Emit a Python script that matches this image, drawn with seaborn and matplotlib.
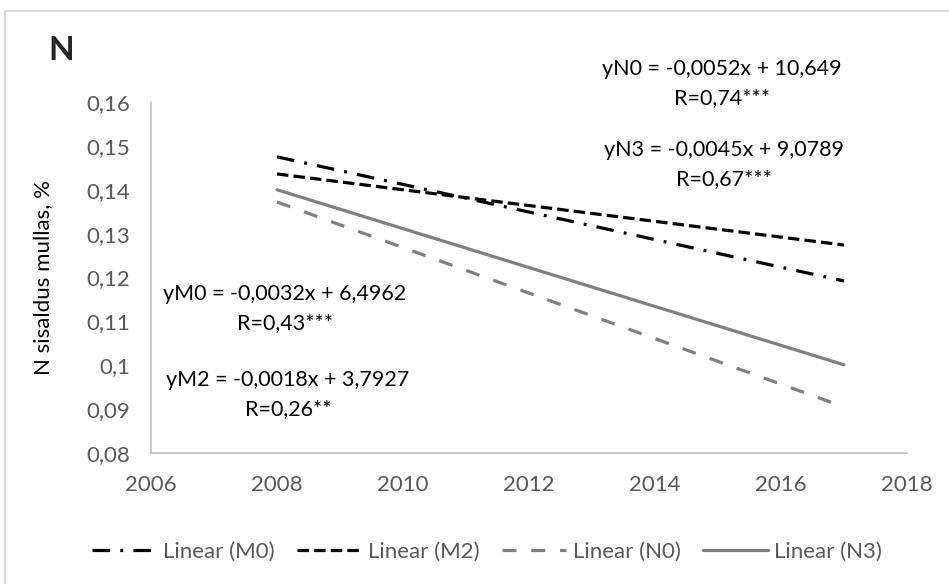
import matplotlib
matplotlib.use("Agg")
import matplotlib.pyplot as plt
from matplotlib.patches import Rectangle
import seaborn as sns
import pandas as pd

# trend lines (start 2008, end 2017)
years = [2008, 2017]
m0 = [0.1475, 0.1192]
m2 = [0.1436, 0.1274]
n0 = [0.1372, 0.0905]
n3 = [0.1400, 0.1001]
labels = ["Linear (M0)", "Linear (M2)", "Linear (N0)", "Linear (N3)"]

yticks = [0.08, 0.09, 0.10, 0.11, 0.12, 0.13, 0.14, 0.15, 0.16]
ytick_labels = ["0,08", "0,09", "0,1", "0,11", "0,12", "0,13", "0,14", "0,15", "0,16"]
xticks = [2006, 2008, 2010, 2012, 2014, 2016, 2018]

sns.set_style("white")
plt.rcParams["font.family"] = ["Lato", "DejaVu Sans"]

df = pd.DataFrame({
    "year": years * 4,
    "value": m0 + m2 + n0 + n3,
    "series": [l for l in labels for _ in years],
})

fig = plt.figure(figsize=(9.49, 5.84), dpi=100)
ax = fig.add_axes([151 / 949, 1 - 453 / 584, (907 - 151) / 949, (453 - 102) / 584])

colors = {"Linear (M0)": "black", "Linear (M2)": "black",
          "Linear (N0)": "#808080", "Linear (N3)": "#808080"}
styles = {"Linear (M0)": (0, (5.5, 3.2, 0.9, 3.2)),
          "Linear (M2)": (0, (3.6, 1.6)),
          "Linear (N0)": (0, (4.4, 4.6)),
          "Linear (N3)": "-"}

for lab in labels:
    sub = df[df["series"] == lab]
    sns.lineplot(data=sub, x="year", y="value", ax=ax, color=colors[lab],
                 linestyle=styles[lab], linewidth=2.3, label=lab, legend=False)

ax.set_xlim(2006, 2018)
ax.set_ylim(0.08, 0.16)
ax.set_xticks(xticks)
ax.set_xticklabels([str(x) for x in xticks])
ax.set_yticks(yticks)
ax.set_yticklabels(ytick_labels)
ax.tick_params(length=0, labelsize=16, labelcolor="#595959")
ax.tick_params(axis="y", pad=15)
ax.tick_params(axis="x", pad=16)
ax.set_xlabel("")
ax.set_ylabel("N sisaldus mullas, %", fontsize=16, color="black")
ax.yaxis.set_label_coords((53 - 151) / 756, 0.5)
for s in ["top", "right"]:
    ax.spines[s].set_visible(False)
for s in ["left", "bottom"]:
    ax.spines[s].set_color("#bfbfbf")
    ax.spines[s].set_linewidth(1.2)

fig.text(48 / 949, 1 - 50 / 584, "N", fontsize=24, fontweight="bold", va="center")

eq_kw = dict(fontsize=15.5, color="black", ha="center", va="center", transform=fig.transFigure)
fig.text(722 / 949, 1 - 69 / 584, "yN0 = -0,0052x + 10,649", **eq_kw)
fig.text(722 / 949, 1 - 98 / 584, "R=0,74***", **eq_kw)
fig.text(724 / 949, 1 - 150 / 584, "yN3 = -0,0045x + 9,0789", **eq_kw)
fig.text(724 / 949, 1 - 179 / 584, "R=0,67***", **eq_kw)
fig.text(285 / 949, 1 - 294 / 584, "yM0 = -0,0032x + 6,4962", **eq_kw)
fig.text(285 / 949, 1 - 323 / 584, "R=0,43***", **eq_kw)
fig.text(288 / 949, 1 - 380 / 584, "yM2 = -0,0018x + 3,7927", **eq_kw)
fig.text(288 / 949, 1 - 409 / 584, "R=0,26**", **eq_kw)

handles, labs = ax.get_legend_handles_labels()
leg = fig.legend(handles, labs, loc="center", bbox_to_anchor=(487 / 949, 1 - 552 / 584),
                 ncol=4, frameon=False, fontsize=16, handlelength=2.9,
                 handletextpad=0.3, columnspacing=1.0)
for t in leg.get_texts():
    t.set_color("#595959")

fig.patches.append(Rectangle((5 / 949, -0.1), 1.2, 1 - 11 / 584 + 0.1, transform=fig.transFigure,
                             fill=False, edgecolor="#d9d9d9", linewidth=1.5, zorder=0))

fig.savefig("out.png", dpi=100)
